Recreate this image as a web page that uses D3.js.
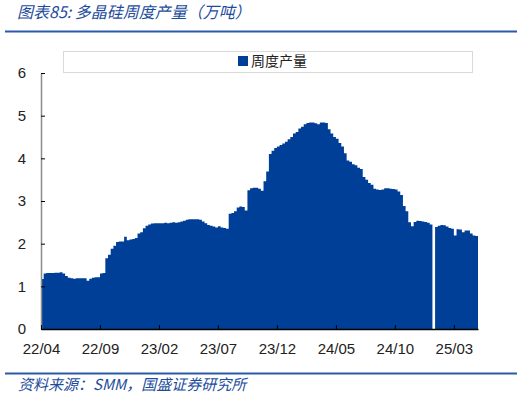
<!DOCTYPE html>
<html>
<head>
<meta charset="utf-8">
<script src="https://cdn.jsdelivr.net/npm/d3@7"></script>
<style>
  body { margin: 0; background: #fff; }
  svg text { font-family: "Liberation Sans", Arial, "Noto Sans CJK SC", sans-serif; }
  .cjk { font-family: "Noto Sans CJK SC", sans-serif; }
</style>
</head>
<body>
<script>
// Weekly polysilicon output (10k t), one value per week from 22/04
var weeklyOutput = [
  1.17, 1.30, 1.31, 1.31, 1.31, 1.32, 1.32, 1.33, 1.30, 1.24,
  1.20, 1.19, 1.18, 1.19, 1.19, 1.19, 1.19, 1.13, 1.18, 1.20,
  1.21, 1.21, 1.30, 1.31, 1.66, 1.74, 1.88, 1.95, 2.04, 2.05,
  2.05, 2.16, 2.08, 2.10, 2.11, 2.13, 2.24, 2.27, 2.36, 2.42,
  2.45, 2.47, 2.48, 2.48, 2.48, 2.48, 2.49, 2.48, 2.49, 2.50,
  2.49, 2.50, 2.52, 2.54, 2.56, 2.57, 2.57, 2.57, 2.57, 2.56,
  2.52, 2.48, 2.44, 2.42, 2.40, 2.38, 2.41, 2.38, 2.37, 2.35,
  2.70, 2.72, 2.76, 2.85, 2.87, 2.86, 2.78, 3.25, 3.30, 3.31,
  3.31, 3.29, 3.24, 3.46, 3.69, 4.10, 4.18, 4.24, 4.28, 4.31,
  4.35, 4.39, 4.45, 4.50, 4.58, 4.62, 4.70, 4.74, 4.80, 4.83,
  4.84, 4.84, 4.82, 4.80, 4.84, 4.84, 4.83, 4.68, 4.58, 4.50,
  4.46, 4.36, 4.28, 4.12, 3.95, 3.92, 3.86, 3.84, 3.78, 3.75,
  3.56, 3.50, 3.42, 3.38, 3.29, 3.27, 3.26, 3.27, 3.30, 3.30,
  3.29, 3.28, 3.27, 3.22, 3.14, 2.88, 2.76, 2.50, 2.41, 2.51,
  2.54, 2.53, 2.52, 2.51, 2.49, 2.45, 0,    2.39, 2.42, 2.44,
  2.43, 2.40, 2.37, 2.35, 2.19, 2.34, 2.33, 2.27, 2.31, 2.31,
  2.24, 2.19, 2.18
];

// x tick labels, one every 22 weeks
var xTickLabels = ["22/04", "22/09", "23/02", "23/07", "23/12", "24/05", "24/10", "25/03"];
var yTicks = [0, 1, 2, 3, 4, 5, 6];
var seriesName = "周度产量";
var titleText = "图表85:  多晶硅周度产量（万吨）";
var sourceText = "资料来源：SMM，国盛证券研究所";

var W = 525, H = 398;
var margin = {top: 73, right: 47, bottom: 69, left: 41},
    width = W - margin.left - margin.right,
    height = H - margin.top - margin.bottom;
var weeksPerTick = 22;
var blue = "#003f97";
var textBlue = "#1d4c9c";

var svg = d3.select("body").append("svg")
    .attr("width", W)
    .attr("height", H);

// Title and rules
svg.append("text")
    .attr("class", "cjk")
    .attr("x", 17)
    .attr("y", 18)
    .style("font-size", "16px")
    .style("font-style", "italic")
    .attr("fill", textBlue)
    .text(titleText);

svg.append("line")
    .attr("x1", 5).attr("x2", 517)
    .attr("y1", 31.5).attr("y2", 31.5)
    .attr("stroke", "#2a5aa8")
    .attr("stroke-width", 2);

svg.append("line")
    .attr("x1", 5).attr("x2", 517)
    .attr("y1", 373.5).attr("y2", 373.5)
    .attr("stroke", "#2a5aa8")
    .attr("stroke-width", 2);

svg.append("text")
    .attr("class", "cjk")
    .attr("x", 18)
    .attr("y", 390)
    .style("font-size", "15px")
    .style("font-style", "italic")
    .attr("fill", textBlue)
    .text(sourceText);

var chart = svg.append("g")
    .attr("transform", "translate(" + margin.left + "," + margin.top + ")");

// Scales
var xScale = d3.scaleLinear()
    .domain([0, weeklyOutput.length])
    .range([0, width]);

var yScale = d3.scaleLinear()
    .domain([0, 6])
    .range([height, 0]);

// Area drawn as steps so each week is a flat column
var pts = weeklyOutput.map(function(v, i) { return [i, v]; });
pts.push([weeklyOutput.length, weeklyOutput[weeklyOutput.length - 1]]);

var area = d3.area()
    .curve(d3.curveStepAfter)
    .x(function(d) { return xScale(d[0]); })
    .y0(yScale(0))
    .y1(function(d) { return yScale(d[1]); });

chart.append("path")
    .datum(pts)
    .attr("d", area)
    .attr("fill", blue);

// Axes
var yAxis = d3.axisLeft(yScale)
    .tickValues(yTicks)
    .tickFormat(d3.format("d"))
    .tickSizeInner(-4)
    .tickSizeOuter(0)
    .tickPadding(15);

var gy = chart.append("g").call(yAxis);
gy.select(".domain").attr("stroke", "#8c8c8c").attr("stroke-width", 1.5);
gy.selectAll(".tick line").attr("stroke", "#000");
gy.selectAll(".tick text")
    .style("font-size", "15px")
    .attr("fill", "#222");

var xAxis = d3.axisBottom(xScale)
    .tickValues(xTickLabels.map(function(d, i) { return i * weeksPerTick; }))
    .tickFormat(function(d, i) { return xTickLabels[i]; })
    .tickSizeInner(-4)
    .tickSizeOuter(0)
    .tickPadding(14);

var gx = chart.append("g")
    .attr("transform", "translate(0," + height + ")")
    .call(xAxis);
gx.select(".domain").attr("stroke", "#000").attr("stroke-width", 1.5);
gx.selectAll(".tick line").attr("stroke", "#000");
gx.selectAll(".tick text")
    .style("font-size", "15px")
    .attr("fill", "#222");

// Legend
var legend = svg.append("g");
legend.append("rect")
    .attr("x", 63.5).attr("y", 51.5)
    .attr("width", 409).attr("height", 21)
    .attr("fill", "#fff")
    .attr("stroke", "#d9d9d9");
legend.append("rect")
    .attr("x", 238).attr("y", 56)
    .attr("width", 10).attr("height", 10)
    .attr("fill", blue);
legend.append("text")
    .attr("class", "cjk")
    .attr("x", 251)
    .attr("y", 61)
    .attr("dy", "0.35em")
    .style("font-size", "14px")
    .attr("fill", "#222")
    .text(seriesName);
</script>
</body>
</html>
